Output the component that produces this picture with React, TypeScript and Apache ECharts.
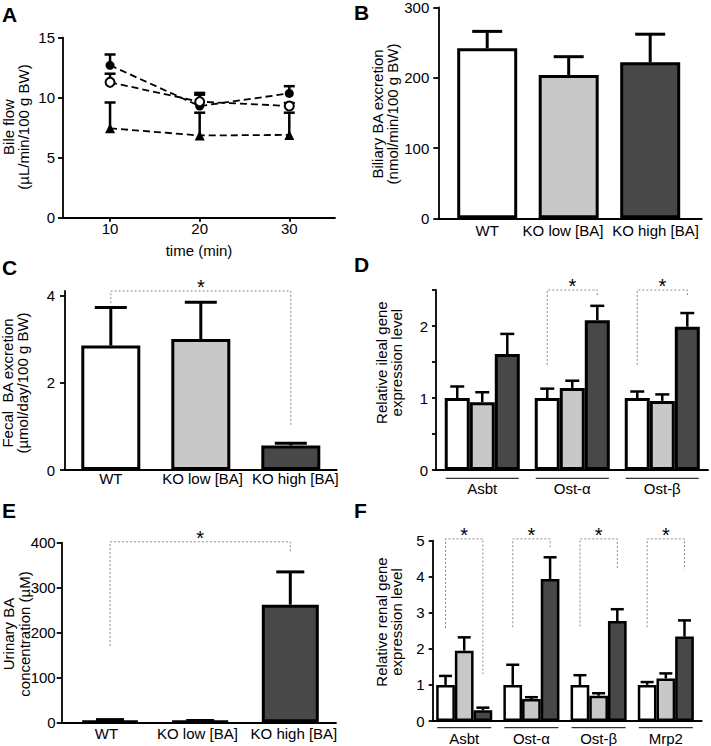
import React, { useEffect, useRef } from "react";
import * as echarts from "echarts";

// ---------- data ----------
const groupNames = ["WT", "KO low [BA]", "KO high [BA]"];
const groupColors = ["#ffffff", "#c8c8c8", "#484848"];

// Panel A: bile flow over time
const timeMin = [10, 20, 30];
const bileFlowWT = [11.28, 9.67, 9.31];
const bileFlowWTErr = [0.72, 0.73, 0.25];
const bileFlowKOLow = [12.7, 9.3, 10.36];
const bileFlowKOLowErr = [0.9, 0.95, 0.6];
const bileFlowKOHigh = [7.45, 6.85, 6.9];
const bileFlowKOHighErr = [2.15, 1.9, 1.85];

// Panel B: biliary BA excretion
const biliaryBA = [242, 204, 222];
const biliaryBAErr = [24, 26, 40];

// Panel C: fecal BA excretion
const fecalBA = [2.85, 3.0, 0.56];
const fecalBAErr = [0.87, 0.84, 0.05];

// Panel D: ileal gene expression
const ilealGenes = ["Asbt", "Ost-α", "Ost-β"];
const ilealWT = [1.0, 1.0, 1.0];
const ilealWTErr = [0.16, 0.13, 0.09];
const ilealKOLow = [0.94, 1.14, 0.96];
const ilealKOLowErr = [0.14, 0.1, 0.09];
const ilealKOHigh = [1.61, 2.08, 1.99];
const ilealKOHighErr = [0.28, 0.2, 0.19];

// Panel E: urinary BA concentration
const urinaryBA = [3, 2, 262];
const urinaryBAErr = [3, 2, 73];

// Panel F: renal gene expression
const renalGenes = ["Asbt", "Ost-α", "Ost-β", "Mrp2"];
const renalWT = [1.0, 1.0, 1.0, 1.0];
const renalWTErr = [0.25, 0.56, 0.27, 0.08];
const renalKOLow = [1.95, 0.61, 0.7, 1.18];
const renalKOLowErr = [0.37, 0.05, 0.07, 0.14];
const renalKOHigh = [0.3, 3.94, 2.77, 2.34];
const renalKOHighErr = [0.07, 0.6, 0.33, 0.45];

// significance brackets (data units)
const fecalSig = [{ from: 0, to: 2, top: 4.1, leftLow: 3.82, rightLow: 0.99 }];
const urinarySig = [{ from: 0, to: 2, top: 402, leftLow: 170, rightLow: 376 }];
const ilealSig = [
  { gene: 1, top: 2.5, leftLow: 1.46, rightLow: 2.4 },
  { gene: 2, top: 2.5, leftLow: 1.46, rightLow: 2.4 },
];
const renalSig = [
  { gene: 0, top: 5.05, leftLow: 2.58, rightLow: 1.3 },
  { gene: 1, top: 5.05, leftLow: 2.6, rightLow: 4.82 },
  { gene: 2, top: 5.05, leftLow: 2.62, rightLow: 4.2 },
  { gene: 3, top: 5.05, leftLow: 2.6, rightLow: 4.2 },
];

// ---------- styling helpers ----------
const FONT = "'Liberation Sans', Arial, Helvetica, sans-serif";
const BAR_STEP = 0.278; // bar spacing within a gene group, in group units
const lineW = 1.8;
const axisLine = { show: true, onZero: false, lineStyle: { color: "#000", width: lineW } };
const tickStyle = { color: "#000", width: lineW };
const lbl = { color: "#000", fontSize: 15, fontFamily: FONT };

function catXAxis(gridIndex: number, min: number, max: number, names: string[], margin: number, labelAt?: number[]) {
  const pos = labelAt ?? names.map((_, i) => i + 1);
  return {
    gridIndex,
    type: "value",
    min,
    max,
    axisLine,
    axisTick: { show: false },
    axisLabel: {
      ...lbl,
      margin,
      hideOverlap: false,
      customValues: pos,
      formatter: (v: number) => {
        let best = 0;
        pos.forEach((p, i) => {
          if (Math.abs(p - v) < Math.abs(pos[best] - v)) best = i;
        });
        return names[best];
      },
    },
    splitLine: { show: false },
  };
}

function yAx(gridIndex: number, min: number, max: number, interval: number, margin: number, labels?: number[], ticks?: number[], tickLen = 5) {
  const axisTick: any = { show: true, length: tickLen, lineStyle: tickStyle };
  const axisLabel: any = { ...lbl, margin, hideOverlap: false };
  if (labels) axisLabel.customValues = labels;
  if (ticks) axisTick.customValues = ticks;
  return {
    gridIndex,
    type: "value",
    min,
    max,
    interval,
    axisLine,
    axisTick,
    axisLabel,
    splitLine: { show: false },
  };
}

function errSeries(idx: number, data: number[][], capW: number, lw: number) {
  return {
    type: "custom",
    xAxisIndex: idx,
    yAxisIndex: idx,
    clip: false,
    z: 4,
    data,
    renderItem: (_p: any, api: any) => {
      const x = api.value(0);
      const v = api.value(1);
      const e = api.value(2);
      const p0 = api.coord([x, v]);
      const p1 = api.coord([x, v + e]);
      const st = { stroke: "#000", lineWidth: lw };
      return {
        type: "group",
        children: [
          { type: "line", shape: { x1: p0[0], y1: p0[1], x2: p1[0], y2: p1[1] }, style: st },
          { type: "line", shape: { x1: p1[0] - capW / 2, y1: p1[1], x2: p1[0] + capW / 2, y2: p1[1] }, style: st },
        ],
      };
    },
  };
}

function bracketSeries(idx: number, data: number[][]) {
  return {
    type: "custom",
    xAxisIndex: idx,
    yAxisIndex: idx,
    clip: false,
    z: 5,
    data,
    renderItem: (_p: any, api: any) => {
      const x1 = api.value(0);
      const x2 = api.value(1);
      const top = api.value(2);
      const lo1 = api.value(3);
      const lo2 = api.value(4);
      const a = api.coord([x1, lo1]);
      const b = api.coord([x1, top]);
      const c = api.coord([x2, top]);
      const d = api.coord([x2, lo2]);
      return {
        type: "group",
        children: [
          {
            type: "polyline",
            shape: { points: [a, b, c, d] },
            style: { stroke: "#8a8a8a", lineWidth: 1, lineDash: [2, 2], fill: null },
          },
          {
            type: "text",
            x: (b[0] + c[0]) / 2,
            y: b[1] - 4,
            style: { text: "*", fontSize: 20, fontFamily: FONT, fill: "#000", align: "center", verticalAlign: "middle", textAlign: "center", textVerticalAlign: "middle" },
          },
        ],
      };
    },
  };
}

function underlineSeries(idx: number, n: number, offset: number) {
  return {
    type: "custom",
    xAxisIndex: idx,
    yAxisIndex: idx,
    clip: false,
    z: 3,
    data: Array.from({ length: n }, (_, i) => [i + 1, 0]),
    renderItem: (_p: any, api: any) => {
      const c = api.value(0);
      const l = api.coord([c - 1.5 * BAR_STEP, 0]);
      const r = api.coord([c + 1.5 * BAR_STEP, 0]);
      return {
        type: "line",
        shape: { x1: l[0] + 1, y1: l[1] + offset, x2: r[0] - 1, y2: r[1] + offset },
        style: { stroke: "#000", lineWidth: 1 },
      };
    },
  };
}

function simpleBars(idx: number, vals: number[], barWidth: number) {
  return {
    type: "bar",
    xAxisIndex: idx,
    yAxisIndex: idx,
    barWidth,
    itemStyle: { borderColor: "#000", borderWidth: 3 },
    data: vals.map((v, i) => ({ value: [i + 1, v], itemStyle: { color: groupColors[i] } })),
  };
}

function groupedBars(idx: number, sets: number[][], barWidth: number, bw: number) {
  const data: any[] = [];
  sets.forEach((vals, s) => {
    vals.forEach((v, g) => {
      data.push({ value: [g + 1 + (s - 1) * BAR_STEP, v], itemStyle: { color: groupColors[s] } });
    });
  });
  return {
    type: "bar",
    xAxisIndex: idx,
    yAxisIndex: idx,
    barWidth,
    itemStyle: { borderColor: "#000", borderWidth: bw },
    data,
  };
}

function groupedErr(sets: number[][], errs: number[][]) {
  const out: number[][] = [];
  sets.forEach((vals, s) => vals.forEach((v, g) => out.push([g + 1 + (s - 1) * BAR_STEP, v, errs[s][g]])));
  return out;
}

function titleText(text: string, x: number, y: number) {
  return {
    type: "text",
    x,
    y,
    rotation: Math.PI / 2,
    style: {
      text,
      fontSize: 15,
      fontFamily: FONT,
      fill: "#000",
      lineHeight: 15.5,
      align: "center",
      verticalAlign: "middle",
      textAlign: "center",
      textVerticalAlign: "middle",
    },
  };
}

function letter(text: string, x: number, y: number) {
  return {
    type: "text",
    x,
    y,
    style: { text, fontSize: 21, fontWeight: "bold", fontFamily: FONT, fill: "#000", align: "left", verticalAlign: "top", textAlign: "left", textVerticalAlign: "top" },
  };
}

function buildOption(): any {
  const grids = [
    { left: 63, top: 37.7, width: 272, height: 180 },
    { left: 438.3, top: 7.5, width: 263.4, height: 210.8 },
    { left: 65, top: 291, width: 271.7, height: 179 },
    { left: 436, top: 290, width: 272, height: 180 },
    { left: 61.7, top: 542.7, width: 274.3, height: 179.6 },
    { left: 432.7, top: 540.7, width: 269, height: 180.3 },
  ].map((g) => ({ ...g, containLabel: false, outerBoundsMode: "none" }));

  const xAxis = [
    {
      gridIndex: 0,
      type: "value",
      min: 4.75,
      max: 35.1,
      axisLine,
      axisTick: { show: true, length: 4, lineStyle: tickStyle, customValues: timeMin },
      axisLabel: { ...lbl, margin: 3, hideOverlap: false, customValues: timeMin },
      splitLine: { show: false },
    },
    catXAxis(1, 0.4, 3.632, groupNames, 5, [1.0, 1.93, 3.065]),
    catXAxis(2, 0.491, 3.51, groupNames, 1, [1.0, 2.02, 3.05]),
    catXAxis(3, 0.486, 3.508, ilealGenes, 11),
    catXAxis(4, 0.464, 3.507, groupNames, 4, [0.96, 1.97, 3.04]),
    catXAxis(5, 0.531, 4.534, renalGenes, 10),
  ];

  const yAxis = [
    yAx(0, 0, 15, 5, 8),
    yAx(1, 0, 300, 100, 9),
    yAx(2, 0, 4.1, 2, 10, [0, 2, 4], [0, 2, 4]),
    yAx(3, 0, 2.5, 0.5, 8, [0, 1, 2], undefined, 4),
    yAx(4, 0, 400, 100, 6),
    yAx(5, 0, 5, 1, 8, undefined, undefined, 4),
  ];

  const dashed = { color: "#000", width: 1.8, type: [7, 4] };
  const series: any[] = [
    // Panel A
    errSeries(
      0,
      [
        ...timeMin.map((t, i) => [t, bileFlowKOHigh[i], bileFlowKOHighErr[i]]),
        ...timeMin.map((t, i) => [t, bileFlowWT[i], bileFlowWTErr[i]]),
        ...timeMin.map((t, i) => [t, bileFlowKOLow[i], bileFlowKOLowErr[i]]),
      ],
      11,
      2.5
    ),
    {
      type: "line",
      xAxisIndex: 0,
      yAxisIndex: 0,
      data: timeMin.map((t, i) => [t, bileFlowKOLow[i]]),
      symbol: "circle",
      symbolSize: 9,
      itemStyle: { color: "#000" },
      lineStyle: dashed,
      z: 5,
    },
    {
      type: "line",
      xAxisIndex: 0,
      yAxisIndex: 0,
      data: timeMin.map((t, i) => [t, bileFlowWT[i]]),
      symbol: "circle",
      symbolSize: 9,
      itemStyle: { color: "#fff", borderColor: "#000", borderWidth: 2 },
      lineStyle: dashed,
      z: 6,
    },
    {
      type: "line",
      xAxisIndex: 0,
      yAxisIndex: 0,
      data: timeMin.map((t, i) => [t, bileFlowKOHigh[i]]),
      symbol: "triangle",
      symbolSize: 10,
      itemStyle: { color: "#000" },
      lineStyle: dashed,
      z: 5,
    },
    // Panel B
    simpleBars(1, biliaryBA, 60),
    errSeries(1, biliaryBA.map((v, i) => [i + 1, v, biliaryBAErr[i]]), 30, 3),
    // Panel C
    simpleBars(2, fecalBA, 59),
    errSeries(2, fecalBA.map((v, i) => [i + 1, v, fecalBAErr[i]]), 32, 3),
    bracketSeries(2, fecalSig.map((s) => [s.from + 1, s.to + 1, s.top, s.leftLow, s.rightLow])),
    // Panel D
    groupedBars(3, [ilealWT, ilealKOLow, ilealKOHigh], 25, 3),
    errSeries(3, groupedErr([ilealWT, ilealKOLow, ilealKOHigh], [ilealWTErr, ilealKOLowErr, ilealKOHighErr]), 14, 2.5),
    bracketSeries(3, ilealSig.map((s) => [s.gene + 1 - BAR_STEP, s.gene + 1 + BAR_STEP, s.top, s.leftLow, s.rightLow])),
    underlineSeries(3, ilealGenes.length, 8.3),
    // Panel E
    simpleBars(4, urinaryBA, 57),
    errSeries(4, urinaryBA.map((v, i) => [i + 1, v, urinaryBAErr[i]]), 28, 3),
    bracketSeries(4, urinarySig.map((s) => [s.from + 1, s.to + 1, s.top, s.leftLow, s.rightLow])),
    // Panel F
    groupedBars(5, [renalWT, renalKOLow, renalKOHigh], 18.7, 2.5),
    errSeries(5, groupedErr([renalWT, renalKOLow, renalKOHigh], [renalWTErr, renalKOLowErr, renalKOHighErr]), 13, 2.5),
    bracketSeries(5, renalSig.map((s) => [s.gene + 1 - BAR_STEP, s.gene + 1 + BAR_STEP, s.top, s.leftLow, s.rightLow])),
    underlineSeries(5, renalGenes.length, 6.7),
  ];

  const graphic = [
    letter("A", 2, 4),
    letter("B", 354, 2),
    letter("C", 2, 257),
    letter("D", 354, 254),
    letter("E", 2, 500),
    letter("F", 354, 500),
    titleText("Bile flow\n(µL/min/100 g BW)", 15.75, 127),
    titleText("Biliary BA excretion\n(nmol/min/100 g BW)", 385, 114),
    titleText("Fecal  BA excretion\n(µmol/day/100 g BW)", 15, 383),
    titleText("Relative ileal gene\nexpression level", 388.75, 362.6),
    titleText("Urinary BA\nconcentration (µM)", 16.7, 634),
    titleText("Relative renal gene\nexpression level", 389, 622),
    {
      type: "text",
      x: 199,
      y: 250,
      style: { text: "time (min)", fontSize: 15, fontFamily: FONT, fill: "#000", align: "center", verticalAlign: "middle", textAlign: "center", textVerticalAlign: "middle" },
    },
  ];

  return {
    animation: false,
    backgroundColor: "#fff",
    grid: grids,
    xAxis,
    yAxis,
    series,
    graphic,
  };
}

export default function App() {
  const ref = useRef<HTMLDivElement>(null);
  useEffect(() => {
    const chart = echarts.init(ref.current!, null, { renderer: "svg" });
    chart.setOption(buildOption());
    return () => chart.dispose();
  }, []);
  return <div ref={ref} style={{ position: "absolute", left: 0, top: 0, width: 711, height: 746 }} />;
}
